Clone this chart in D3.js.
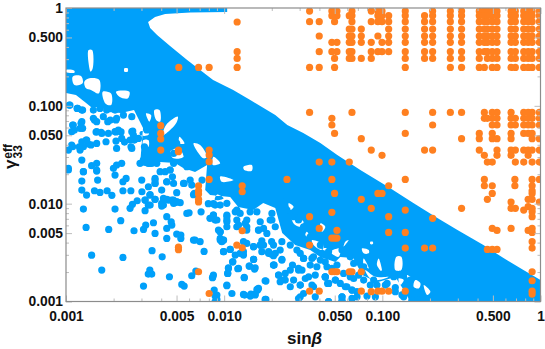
<!DOCTYPE html>
<html><head><meta charset="utf-8">
<style>html,body{margin:0;padding:0;background:#fff;overflow:hidden}text{font-family:"Liberation Sans",Arial,sans-serif;font-weight:bold;fill:#111}</style>
<script src="https://cdn.jsdelivr.net/npm/d3@7"></script>
</head><body><svg id="c" width="545" height="349"></svg>
<script>
// All values below are log10(sinβ), log10(γ).
const majorTicks=[0.001,0.005,0.01,0.05,0.1,0.5,1];
const tickLabels=["0.001","0.005","0.010","0.050","0.100","0.500","1"];
const minorTicks=[0.002,0.003,0.004,0.006,0.007,0.008,0.009,0.02,0.03,0.04,0.06,0.07,0.08,0.09,0.2,0.3,0.4,0.6,0.7,0.8,0.9];
// solid (saturated) part of the blue scan
const blueOutline=[[-3,0],[-1.981,0],[-1.981,-.041],[-2.215,-.046],[-2.373,-.061],[-2.437,-.092],[-2.481,-.143],[-2.468,-.204],[-2.424,-.276],[-2.342,-.389],[-2.234,-.532],[-2.152,-.634],[-2.07,-.736],[-1.943,-.838],[-1.835,-.941],[-1.677,-1.094],[-1.601,-1.196],[-1.5,-1.278],[-1.392,-1.38],[-1.285,-1.503],[-1.139,-1.656],[-.962,-1.83],[-.804,-1.994],[-.652,-2.147],[-.525,-2.27],[-.361,-2.423],[-.234,-2.556],[-.108,-2.679],[0,-2.781],[0,-3],[-.823,-3],[-.873,-2.863],[-.918,-2.75],[-1.032,-2.802],[-1.127,-2.73],[-1.184,-2.556],[-1.266,-2.546],[-1.297,-2.597],[-1.392,-2.546],[-1.456,-2.474],[-1.551,-2.423],[-1.633,-2.301],[-1.677,-2.045],[-1.753,-1.994],[-1.816,-2.065],[-1.911,-2.035],[-1.962,-1.933],[-2.089,-1.912],[-2.12,-1.861],[-2.108,-1.605],[-2.184,-1.677],[-2.259,-1.636],[-2.31,-1.585],[-2.405,-1.575],[-2.468,-1.626],[-2.532,-1.605],[-2.513,-1.227],[-2.57,-1.043],[-2.652,-1.074],[-2.734,-1.063],[-2.778,-1.012],[-2.842,-1.012],[-2.873,-.971],[-2.937,-.89],[-3,-.869]];
// unfilled pockets inside the solid part
const blueGaps=[
[[-2.857,-.429],[-2.835,-.429],[-2.831,-.617],[-2.844,-.651],[-2.857,-.566]],
[[-2.958,-.702],[-2.905,-.695],[-2.895,-.77],[-2.947,-.787]],
[[-2.884,-.753],[-2.852,-.719],[-2.789,-.736],[-2.793,-.873],[-2.842,-.838],[-2.873,-.821]],
[[-2.768,-.855],[-2.715,-.873],[-2.715,-.992],[-2.751,-.975]],
[[-2.684,-.855],[-2.599,-.855],[-2.61,-.924],[-2.662,-.907]],
[[-2.441,-1.043],[-2.409,-1.043],[-2.405,-1.162],[-2.43,-1.145]],
[[-2.367,-1.196],[-2.293,-1.111],[-2.304,-1.179],[-2.367,-1.282],[-2.388,-1.299]],
[[-2.283,-1.316],[-2.251,-1.384],[-2.283,-1.384]],
[[-3,-.634],[-2.947,-.641],[-2.947,-.661],[-3,-.654]],
[[-2.494,-1.077],[-2.462,-1.094],[-2.473,-1.162]],
[[-2.631,-.617],[-2.61,-.617],[-2.61,-.651],[-2.631,-.651]],
[[-2.532,-1.264],[-2.479,-1.264],[-2.479,-1.299],[-2.532,-1.299]],
[[-2.511,-1.35],[-2.479,-1.35],[-2.479,-1.418],[-2.511,-1.418]],
[[-2.342,-1.469],[-2.289,-1.435],[-2.257,-1.52],[-2.321,-1.537]],
[[-2.194,-1.384],[-2.152,-1.401],[-2.11,-1.52],[-2.131,-1.537]],
[[-1.878,-1.622],[-1.825,-1.605],[-1.825,-1.663],[-1.873,-1.656]],
[[-2.068,-1.52],[-2.025,-1.588],[-2.072,-1.605]],
[[-2.025,-1.722],[-1.941,-1.759],[-2.016,-1.776]],
[[-2.046,-1.908],[-2.004,-1.946],[-2.059,-1.963]],
[[-1.572,-2.134],[-1.498,-2.185],[-1.519,-2.236],[-1.561,-2.202]],
[[-1.445,-2.372],[-1.371,-2.423],[-1.382,-2.474],[-1.435,-2.423]],
[[-1.477,-2.287],[-1.456,-2.355],[-1.487,-2.321]],
[[-1.593,-1.997],[-1.561,-2.031],[-1.582,-2.065]],
[[-1.392,-2.202],[-1.361,-2.236],[-1.382,-2.287]],
[[-1.329,-2.491],[-1.266,-2.457],[-1.276,-2.543],[-1.308,-2.525]],
[[-1.129,-2.457],[-1.086,-2.474],[-1.086,-2.508],[-1.118,-2.508]],
[[-1.023,-2.56],[-1.002,-2.696],[-1.034,-2.628]],
[[-.911,-2.543],[-.88,-2.543],[-.88,-2.679],[-.918,-2.679]],
[[-1.118,-2.56],[-1.086,-2.662],[-1.118,-2.628]],
[[-1.108,-2.679],[-1.044,-2.748],[-.96,-2.748],[-1.023,-2.781],[-1.076,-2.765]],
[[-.897,-2.765],[-.865,-2.781],[-.886,-2.832]],
[[-.791,-2.781],[-.759,-2.815],[-.77,-2.866],[-.802,-2.849]],
[[-.738,-2.832],[-.696,-2.9],[-.717,-2.933]],
[[-1.392,-2.457],[-1.35,-2.457],[-1.35,-2.481]],
[[-1.076,-2.389],[-1.06,-2.389],[-1.06,-2.413],[-1.076,-2.413]],
[[-1.234,-2.389],[-1.213,-2.372],[-1.245,-2.44]],
[[-.844,-2.73],[-.812,-2.765],[-.833,-2.775]]];
const blueDots=[[-2.985,-1.656],[-2.89,-1.673],[-2.806,-1.667],[-2.9,-1.769],[-2.8,-1.759],[-2.9,-1.861],[-2.87,-1.912],[-2.82,-1.868],[-2.785,-1.885],[-2.74,-1.868],[-2.71,-1.915],[-2.69,-1.708],[-2.62,-1.742],[-2.64,-1.776],[-2.64,-1.868],[-2.59,-1.868],[-2.55,-1.97],[-2.58,-2.007],[-2.595,-2.048],[-2.52,-1.878],[-2.5,-1.963],[-2.47,-1.912],[-2.48,-2.014],[-2.5,-2.072],[-2.69,-2.055],[-2.89,-2.055],[-2.654,-2.174],[-2.873,-2.243],[-2.73,-2.263],[-2.57,-2.277],[-2.51,-2.263],[-2.496,-2.219],[-2.447,-2.195],[-2.437,-2.304],[-2.363,-2.253],[-2.363,-2.355],[-2.335,-2.185],[-2.331,-2.219],[-2.3,-2.311],[-2.274,-2.321],[-2.274,-2.355],[-2.236,-2.1],[-2.222,-2.093],[-2.146,-2.083],[-2.194,-2.372],[-2.184,-2.372],[-2.152,-2.389],[-2.127,-2.488],[-2.456,-2.481],[-2.392,-2.543],[-2.838,-2.526],[-2.64,-2.549],[-2.774,-2.679],[-2.48,-2.72],[-2.47,-2.679],[-2.458,-2.72],[-2.346,-2.747],[-2.51,-2.842],[-2.268,-2.825],[-2.253,-2.842],[-2.205,-2.737],[-2.179,-2.689],[-2.074,-2.757],[-2.068,-2.73],[-1.983,-2.839],[-1.951,-2.918],[-2.063,-2.883],[-2.046,-2.934],[-2.057,-2.945],[-2.057,-3],[-1.871,-2.934],[-1.831,-2.924],[-1.804,-2.924],[-1.789,-2.883],[-1.783,-2.866],[-1.736,-2.791],[-1.736,-2.979],[-1.873,-2.754],[-1.977,-2.713],[-1.973,-2.655],[-1.914,-2.665],[-1.842,-2.638],[-1.804,-2.655],[-1.947,-2.594],[-1.814,-2.57],[-1.962,-2.468],[-2.004,-2.491],[-2.025,-2.355],[-2.015,-2.389],[-2.004,-2.372],[-1.857,-2.406],[-1.878,-2.389],[-1.814,-2.44],[-1.772,-2.423],[-1.751,-2.423],[-1.762,-2.379],[-1.719,-2.491],[-1.705,-2.515],[-1.688,-2.532],[-1.688,-2.628],[-1.878,-2.491],[-1.93,-2.525],[-1.899,-2.508],[-2.437,-1.742],[-2.437,-1.793],[-2.363,-1.776],[-2.32,-1.793],[-2.384,-2.014],[-2.437,-1.956],[-2.395,-1.997],[-2.331,-1.963],[-2.3,-1.98],[-2.278,-1.99],[-2.363,-1.956],[-2.32,-1.997],[-2.257,-1.793],[-2.188,-1.895],[-2.205,-1.81],[-2.363,-2.133],[-2.068,-2.117],[-2.09,-2.15],[-2.046,-2.167],[-2.025,-2.014],[-2.068,-2],[-2.1,-2],[-2.036,-2.27],[-2.025,-2.287],[-1.983,-2.236],[-1.983,-2.133],[-1.983,-2.185],[-1.92,-2.236],[-1.92,-2.167],[-1.867,-2.2],[-1.857,-2.236],[-1.783,-2.27],[-1.751,-2.253],[-1.698,-2.1],[-1.698,-2.167],[-1.73,-2.304],[-1.93,-2.083],[-1.899,-2.1],[-1.836,-2.083],[-1.793,-2.083],[-2.068,-1.844],[-2.078,-1.742],[-2.14,-1.759],
[-2.975,-.992],[-2.93,-1.026],[-2.9,-1.043],[-2.827,-1.043],[-2.785,-1.026],[-2.743,-1.043],[-2.69,-1.043],[-2.827,-1.128],[-2.806,-1.162],[-2.764,-1.111],[-2.72,-1.145],[-2.68,-1.128],[-2.637,-1.094],[-2.584,-1.111],[-2.9,-1.162],[-2.911,-1.23],[-2.954,-1.196],[-2.964,-1.264],[-2.806,-1.264],[-2.774,-1.282],[-2.732,-1.282],[-2.69,-1.264],[-2.669,-1.247],[-2.584,-1.264],[-2.574,-1.299],[-2.869,-1.35],[-2.9,-1.367],[-2.89,-1.418],[-2.964,-1.401],[-2.985,-1.452],[-2.911,-1.452],[-2.9,-1.554],[-2.859,-1.391],[-2.806,-1.384],[-2.648,-1.333],[-2.68,-1.435],[-2.584,-1.435],[-2.595,-1.35],[-2.542,-1.333],[-2.489,-1.469],[-2.511,-1.554],[-2.479,-1.588],[-2.532,-1.588],[-2.68,-1.605],[-2.648,-1.588],[-2.806,-1.588],[-2.838,-1.612],[-2.806,-1.656],[-2.985,-1.639],[-2.89,-1.673],[-2.7,-1.639],[-2.458,-1.588],[-2.426,-1.588],[-2.405,-1.673],[-2.342,-1.656],[-2.32,-1.588],[-2.236,-1.622],[-2.194,-1.588],[-2.236,-1.486],[-2.3,-1.384],[-2.342,-1.418],[-2.363,-1.503],[-2.32,-1.486],[-2.447,-1.384],[-2.405,-1.418],[-2.447,-1.282],[-2.489,-1.247],
[-1.677,-2.509],[-1.635,-2.57],[-1.684,-2.628],[-1.656,-2.73],[-1.635,-2.781],[-1.582,-2.849],[-1.614,-2.713],[-1.53,-2.662],[-1.498,-2.56],[-1.508,-2.679],[-1.445,-2.56],[-1.424,-2.73],[-1.361,-2.747],[-1.34,-2.815],[-1.435,-2.849],[-1.519,-2.832],[-1.466,-2.747],[-1.519,-2.952],[-1.498,-2.918],[-1.34,-3],[-1.255,-2.952],[-1.255,-3],[-1.16,-2.9],[-1.192,-2.969],[-1.224,-2.849],[-1.192,-2.883],[-1.266,-2.815],[-1.392,-2.577],[-1.35,-2.645],[-1.287,-2.628],[-1.245,-2.713],[-1.203,-2.747],[-1.118,-2.781],[-1.076,-2.832],[-1.034,-2.832],[-.981,-2.832],[-.918,-2.9],[-.865,-2.952],[-.812,-2.986],[-.781,-2.918],[-.738,-2.969],[-1.181,-2.611],[-1.118,-2.645],[-1.076,-2.543],[-.99,-2.713],[-.928,-2.747],[-.865,-2.713],[-.823,-2.781],[-1.456,-2.338],[-1.392,-2.423],[-1.34,-2.491],[-1.255,-2.474],[-1.203,-2.543],[-1.635,-2.389],[-1.582,-2.423],[-1.54,-2.474],[-1.7,-2.389],[-1.677,-2.236],[-1.625,-1.98],[-1.603,-2.065],[-1.56,-2.133],[-1.498,-2.236],[-1.53,-2.167],
[-2.057,-2.014],[-1.983,-1.997],[-2.068,-2.117],[-2.057,-2.168],[-1.983,-2.117],[-1.983,-2.168],[-1.92,-2.065],[-1.909,-2.219],[-1.857,-2.168],[-1.857,-2.27],[-1.783,-2.27],[-1.772,-2.185],[-1.709,-2.168],[-2.025,-2.287],[-2.025,-2.372],[-2.004,-2.372],[-2.004,-2.491],[-1.962,-2.468],[-1.878,-2.525],[-1.945,-2.594],[-1.973,-2.662],[-1.978,-2.713],[-1.909,-2.662],[-1.873,-2.757],[-1.84,-2.638],[-1.808,-2.669],[-1.814,-2.57],[-1.814,-2.44],[-1.772,-2.423],[-1.762,-2.491],[-1.719,-2.509],[-1.688,-2.423],[-1.646,-2.474],[-1.635,-2.577],[-1.688,-2.628],[-1.568,-2.628],[-1.656,-2.73],[-1.646,-2.798],[-1.614,-2.781],[-1.561,-2.781],[-1.582,-2.679],[-1.53,-2.679],[-1.519,-2.832],[-1.445,-2.832],[-1.519,-2.509],[-1.498,-2.56],[-1.435,-2.543],[-1.414,-2.645],[-1.361,-2.594],[-1.361,-2.75],[-1.346,-2.815],[-1.297,-2.781],[-2.072,-2.75],[-1.983,-2.832],[-1.793,-2.877],[-1.804,-2.933],[-1.878,-2.928],[-1.835,-2.945],[-1.741,-2.788],[-1.741,-2.979],[-2.046,-2.979],[-1.424,-2.952],[-1.53,-2.97],[-1.456,-2.628],[-1.487,-2.765],[-1.319,-2.662],
[-1.361,-2.748],[-1.297,-2.781],[-1.34,-2.815],[-1.234,-2.849],[-1.192,-2.883],[-1.16,-2.952],[-1.255,-2.952],[-1.255,-2.986],[-1.34,-3],[-1.097,-2.945],[-1.044,-2.952],[-1.181,-2.765],[-1.15,-2.73],[-1.055,-2.781],[-.97,-2.815],[-.918,-2.857],[-.876,-2.933],[-.812,-2.986],
[-2.521,-1.759],[-2.479,-1.827],[-2.468,-1.908],[-2.437,-1.759],[-2.437,-1.793],[-2.5,-1.963],[-2.437,-1.956],[-2.468,-2.014],[-2.384,-1.946],[-2.352,-1.963],[-2.395,-1.861],[-2.373,-1.673],[-2.342,-1.656],[-2.363,-1.776],[-2.327,-1.725],[-2.253,-1.793],[-2.215,-1.759],[-2.3,-1.888],[-2.321,-1.963],[-2.31,-1.99],[-2.395,-2.025],[-2.194,-1.908],
[-2.98,-.992],[-2.926,-1.026],[-2.895,-1.043],[-2.82,-1.145],[-2.778,-1.271],[-2.81,-1.268],[-2.736,-1.162],[-2.684,-1.145],[-2.578,-1.257],[-2.905,-1.179],[-2.958,-1.196],[-2.947,-1.247],[-2.895,-1.23],[-2.747,-1.367],[-2.873,-1.35],[-2.916,-1.418],[-2.684,-1.267],[-2.652,-1.267],[-2.684,-1.36],[-2.568,-1.35],[-2.63,-1.37],[-2.504,-1.418],[-2.589,-1.418],[-2.842,-1.4],[-2.958,-1.418]];
const gammaLevels=[-.031,-.078,-.14,-.215,-.286,-.351,-.446,-.515,-.607,-1.067,-1.128,-1.196,-1.282,-1.336,-1.452,-1.506,-1.575];
const orangeColumns=[[-1.46,[0,2,8,9]],[-1.399,[2,4,6,8,16]],[-1.319,[0,1,5,6,10,11,16]],[-1.302,[0,1,2,7,8,12]],[-1.287,[0,1,5,6]],[-1.209,[1,3,4,5,6,7,16]],[-1.192,[0,1,2,3,4,5,6,7,9]],[-1.133,[3,4,5,7,13]],[-1.07,[0,2,5,6,7,14]],[-1.028,[0,1,2,4,6]],[-1.002,[0,1,2,5,6,15]],[-.96,[1,2,3,4,5,6]],[-.855,[0,1,2,3,4,5,6,7,8,9,12]],[-.733,[1,2,3,4,5,6,7,14]],[-.682,[0,1,2,3,4,5,6,7,9,11,14]],[-.57,[0,1,2,3,4,5,6,7,8,9]],[-.499,[0,1,2,3,4,5,6,7,8,9,13]],[-.387,[0,1,2,3,4,5,6,7,8,12,13,14]],[-.355,[0,1,2,3,4,5,6,8,9,10,15]],[-.336,[0,1,2,3,4,5,6,7,10,16]],[-.305,[0,1,2,3,4,5,6,7,8,9,10,11,12,13,16]],[-.275,[0,1,2,3,4,5,6,7,8,9,10,11,13,14,15]],[-.186,[0,1,2,3,4,5,6,7,8,9,10,11,12,13,14,15]],[-.159,[0,1,2,3,4,5,6,7,8,10,11,14,16]],[-.106,[0,1,2,3,4,5,6,7,8,9,10,11,12,14,16]],[-.078,[0,1,2,3,4,5,6,7,8,9,10,11,12,14,15]],[-.053,[0,1,2,3,4,5,6,7,8,9,10,11,12,13,14,16]],[-.007,[0,1,2,3,4,5,6,7,8,9,10,11,13,14,16]]];
const orangeDots=[[-1.918,-.143],[-1.918,-.446],[-1.918,-.515],[-1.918,-.607],[-2.287,-.607],[-2.162,-.607],[-2.095,-.607],[-2.401,-1.203],[-2.401,-1.282],[-2.401,-1.339],[-2.401,-1.452],[-2.289,-1.452],[-2.289,-1.469],[-2.095,-1.452],[-2.095,-1.503],[-2.095,-1.571],[-2.095,-1.752],[-2.162,-1.817],[-2.162,-1.868],[-2.162,-1.902],[-2.162,-1.956],[-2.162,-1.983],[-1.886,-1.817],[-1.886,-1.878],[-1.886,-2.277],[-1.92,-2.423],[-1.886,-2.451],[-2.289,-2.445],[-2.289,-2.47],[-2.162,-2.696],[-2.095,-2.918],
[-1.603,-1.752],[-1.319,-1.752],[-.855,-1.752],[-.355,-1.752],[-.162,-1.752],[-.053,-1.752],[-.007,-1.752],[-.355,-1.817],[-.305,-1.817],[-.162,-1.817],[-.053,-1.817],[-.96,-1.817],[-1.302,-1.895],[-1.028,-1.895],[-1.002,-1.895],[-.305,-1.895],[-.053,-1.895],[-.053,-1.868],[-1.133,-1.956],[-.336,-1.956],[-.186,-1.983],[-.053,-1.956],[-.078,-1.956],[-.007,-1.983],[-1.07,-2.048],[-1.319,-2.089],[-.855,-2.065],[-.499,-2.048],[-.186,-2.048],[-.159,-2.048],[-.106,-2.065],[-.078,-2.03],[-.053,-2.048],[-.053,-2.082],[-.053,-2.133],[-1.46,-2.133],[-.96,-2.133],[-.682,-2.15],[-1.399,-2.253],[-1.287,-2.273],[-.96,-2.294],[-.855,-2.294],[-.305,-2.253],[-.275,-2.273],[-.186,-2.253],[-.078,-2.273],[-.053,-2.253],[-.053,-2.294],[-1.319,-2.352],[-1.302,-2.352],[-1.287,-2.352],[-1.46,-2.423],[-.855,-2.454],[-.733,-2.454],[-.682,-2.454],[-.336,-2.468],[-.305,-2.468],[-.275,-2.468],[-.053,-2.389],[-.053,-2.454],[-1.319,-2.696],[-1.302,-2.696],[-1.287,-2.696],[-1.209,-2.696],[-1.192,-2.696],[-1.133,-2.696],[-.053,-2.696],[-.053,-2.788],[-1.46,-2.894],[-1.399,-2.894],[-1.133,-2.894],[-1.07,-2.9],[-1.028,-2.894],[-1.002,-2.894],[-.96,-2.894],[-.855,-2.894],[-.053,-2.894],[-.053,-2.924]];

const BLUE="#00A0FA",ORANGE="#FF8020",FRAME="#8c8c8c",TICK="#bdbdbd",R=3.6;
const L=66,Rt=540.5,T=8,B=301.5;
const x=d3.scaleLog().domain([0.001,1]).range([L,Rt]);
const y=d3.scaleLog().domain([0.001,1]).range([B,T]);
const p=e=>Math.pow(10,e);
const svg=d3.select("#c");
svg.append("defs").append("clipPath").attr("id","plot").append("rect").attr("x",L).attr("y",T).attr("width",Rt-L).attr("height",B-T);
const g=svg.append("g").attr("clip-path","url(#plot)");
const ring=d3.line().x(d=>x(p(d[0]))).y(d=>y(p(d[1])));
const round=d3.line().x(d=>x(p(d[0]))).y(d=>y(p(d[1]))).curve(d3.curveCatmullRomClosed.alpha(0.5));
g.append("path").attr("fill",BLUE).attr("fill-rule","evenodd").attr("d",ring(blueOutline)+"Z"+blueGaps.map(r=>round(r)).join(""));
g.selectAll("circle.b").data(blueDots).join("circle").attr("class","b").attr("cx",d=>x(p(d[0]))).attr("cy",d=>y(p(d[1]))).attr("r",R).attr("fill",BLUE);
const orange=orangeDots.concat(orangeColumns.flatMap(([c,idx])=>idx.map(i=>[c,gammaLevels[i]])));
g.selectAll("circle.o").data(orange).join("circle").attr("class","o").attr("cx",d=>x(p(d[0]))).attr("cy",d=>y(p(d[1]))).attr("r",R).attr("fill",ORANGE);

function ticks(gen,tf,size,vals,lab){
  const a=svg.append("g").attr("transform",tf).call(gen.tickValues(vals).tickSize(size).tickSizeOuter(0).tickFormat(lab?((d,i)=>tickLabels[i]):""));
  a.select(".domain").remove();
  a.selectAll("line").attr("stroke",TICK).attr("stroke-width",1);
  a.selectAll("text").attr("font-size",13.8);
  return a;
}
ticks(d3.axisBottom(x),`translate(0,${B})`,-3,minorTicks);
ticks(d3.axisBottom(x),`translate(0,${B})`,-6,majorTicks,true).selectAll("text").attr("y",7).attr("dy","0.9em");
ticks(d3.axisTop(x),`translate(0,${T})`,-3,minorTicks);
ticks(d3.axisTop(x),`translate(0,${T})`,-6,majorTicks);
ticks(d3.axisLeft(y),`translate(${L},0)`,-3,minorTicks);
ticks(d3.axisLeft(y),`translate(${L},0)`,-6,majorTicks,true).selectAll("text").attr("x",-3);
ticks(d3.axisRight(y),`translate(${Rt},0)`,-3,minorTicks);
ticks(d3.axisRight(y),`translate(${Rt},0)`,-6,majorTicks);
svg.append("rect").attr("x",L).attr("y",T).attr("width",Rt-L).attr("height",B-T).attr("fill","none").attr("stroke",FRAME).attr("stroke-width",1.2);

const xl=svg.append("text").attr("x",287).attr("y",344).attr("font-size",17);
xl.append("tspan").text("sin");
xl.append("tspan").attr("font-style","italic").text("β");
const yl=svg.append("text").attr("transform","translate(16,169) rotate(-90)").attr("font-size",17);
yl.append("tspan").text("γ");
yl.append("tspan").attr("font-size",12).attr("dy",6).attr("dx",1).text("33");
yl.append("tspan").attr("font-size",12).attr("dy",-10).attr("dx",-13.5).text("eff");
</script></body></html>
